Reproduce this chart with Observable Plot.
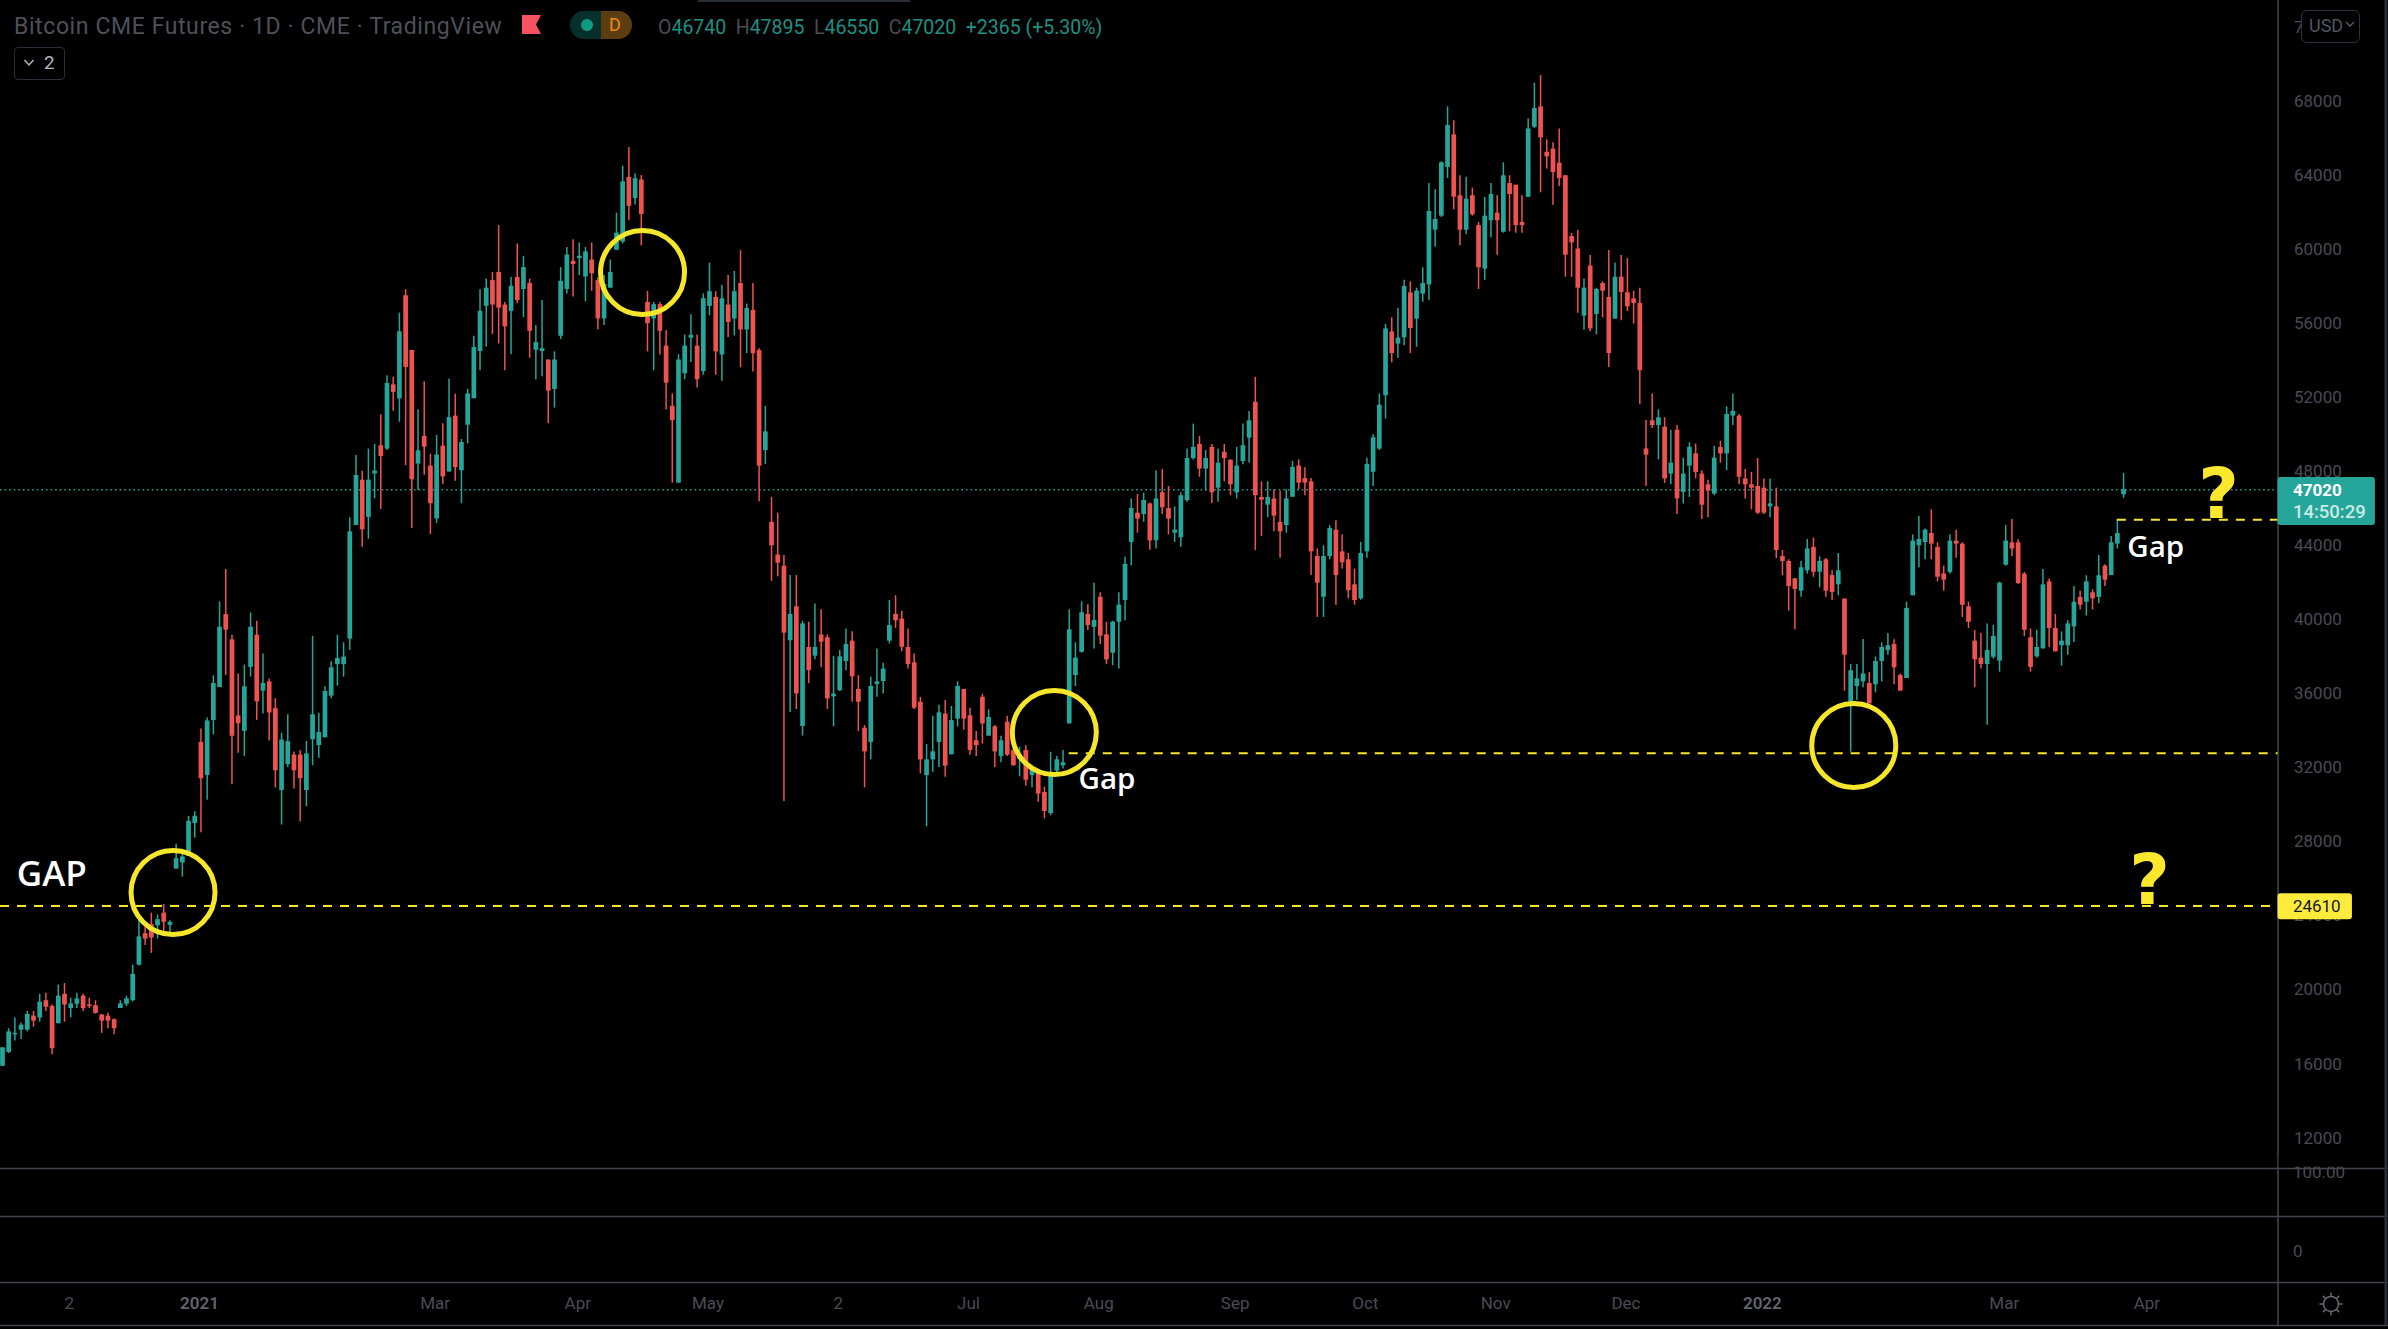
<!DOCTYPE html>
<html><head><meta charset="utf-8">
<script src="https://cdn.jsdelivr.net/npm/d3@7"></script>
<script src="https://cdn.jsdelivr.net/npm/@observablehq/plot@0.6"></script>
<style>
html,body{margin:0;padding:0;background:#000;width:2388px;height:1329px;overflow:hidden}
#wrap{position:relative;width:2388px;height:1329px}
#wrap svg.main{position:absolute;left:0;top:0}
.ov{position:absolute;font-family:Roboto,sans-serif;white-space:nowrap}
</style></head><body>
<div id="wrap"></div>
<script>
// Daily candles, rows are [open, high, low, close] in USD
const dec2020 = [[15880,16880,15880,16880],[16630,17910,16570,17740],[17580,18490,17250,17660],[17830,18220,17330,18100],[17830,18840,17740,18680],[18590,18840,17990,18320],[18490,19770,18260,19340],[19420,19830,18840,19070],[19110,19190,16500,16830],[18180,20270,18180,19670],[19770,20350,18260,19190],[19000,19560,18490,19250],[19230,19830,19000,19520],[19670,19770,18840,19000],[19190,19560,19000,19110],[19150,19420,18700,18740],[18650,18680,17660,18320],[18590,18740,17910,18320],[18400,18430,17580,17910],[19000,19420,19000,19250],[19230,19670,19110,19520],[19420,21340,19360,20850],[21340,23900,21300,22870],[23040,23390,22400,22750],[23530,24150,21980,22810],[23470,24050,22750,23800],[24150,24610,23120,23660],[23490,23740,22970,23660]];
const jan2021 = [[26530,27870,26530,27090],[26860,27420,26100,27190],[27210,29380,27210,29110],[28990,29630,28200,29380],[33370,34090,28490,31410],[31590,34690,30250,34530],[34550,36970,33780,36550],[36330,40960,36330,39590],[40270,42710,36990,39430],[38910,39160,31080,33700],[34800,37070,32790,34380],[33970,37550,32610,36370],[37420,40360,36900,39590],[39160,39920,34550,35560],[36140,38150,34900,36550],[36640,36800,33450,34960],[35190,35730,30910,31840],[30770,33870,28910,33500],[32170,34860,32010,33410],[32690,32850,30850,31840],[32690,32920,29070,31410],[30770,33430,29900,32750],[33510,39100,32110,34860],[33200,34940,32520,33910],[33620,36370,33620,36120],[35870,37730,35730,37400],[37570,39160,36410,37900],[37570,38750,36900,37980]];
const feb2021 = [[38950,45500,38330,44740],[45080,48860,45080,47780],[47530,48020,43910,44850],[45520,49210,44350,47530],[47870,49460,46520,48020],[49390,51060,45950,48810],[49210,53170,49130,52750],[52680,53090,51260,52270],[51920,56550,50660,55540],[57490,57810,48310,53620],[54530,54530,44920,47550],[48400,51330,46970,49120],[49900,52840,47800,49320],[48290,48940,44600,46260],[45440,49950,45200,48890],[49370,50580,47300,47710],[47970,52990,47970,50910],[50990,52170,47470,48210],[48040,49730,46260,49560],[50500,52430,49490,52190],[51930,55300,51930,54700],[54480,57810,53440,56650],[56920,58390,54720,57900],[58310,58750,55400,56990],[58750,61280,54890,56820],[56990,57130,53440,55810],[56650,58480,54310,58000],[58480,60290,57060,57230],[57830,59620,56310,59010],[58150,58390,54120,55570],[54550,55880,52960,54960],[54480,57230,53110,54630],[54020,54020,50580,52340],[52430,54460,51420,54020]];
const apr2021 = [[55300,59010,55130,58270],[57830,60100,57590,59690],[59350,60510,57420,59180],[59500,60340,58580,59620],[58510,60100,57160,59860],[59420,60340,57730,58680],[58310,58460,55640,56240],[56240,58580,55880,58100],[57900,59420,57900,58750],[59950,61950,59950,60870],[60390,64490,60290,63640],[63880,65500,61540,62320],[62730,64080,62390,63810],[63740,63980,60190,61880],[57130,57730,54460,55980],[56240,57130,53440,57010],[57010,57130,54290,55570],[54770,55610,51320,52770],[51520,52190,47370,50740],[47370,54310,47370,54020]];
const may2021 = [[53280,55370,52960,54770],[55200,56460,53880,55350],[54770,55370,52510,52960],[53400,57590,53200,57330],[56920,59250,56410,57710],[57400,57710,53200,54460],[54290,58050,52870,57330],[56990,58580,55230,56050],[56240,58800,55320,57710],[58150,59930,53610,55640],[55640,57040,54360,56800],[56700,58150,53370,54360],[54530,54630,46360,48290],[49130,51520,48380,50140],[45250,46600,42070,43990],[43490,45750,42310,43050],[42890,43460,30180,39270],[38860,42380,34980,40280],[40690,42380,35150,35990]];
const jun2021 = [[34230,39920,33710,39770],[38500,39860,36550,37250],[38030,40850,37830,38500],[39180,40530,37420,38780],[39020,39180,35150,35720],[35830,38010,34210,35980],[36160,38330,36120,37990],[37740,39500,37240,38660],[38840,39340,35540,36910],[36230,36980,33960,35540],[34140,34280,30920,32860],[33370,36890,32430,36390],[36500,38420,35810,36640],[36660,37650,35990,37330],[38840,41030,38690,39680],[40280,41290,39520,39940],[40030,40460,38260,38510],[38500,39500,37340,37580],[37670,38150,35150,35220],[35540,35800,31670,32430],[31580,33260,28810,32430]];
const jul2021 = [[32430,34790,31760,32860],[33370,35380,32020,34970],[34900,35630,31490,32090],[32700,35310,32700,34550],[34630,36640,34210,36390],[36230,36230,34030,34630],[34810,35220,32680,32930],[33460,33960,32610,33200],[35810,35980,33280,34370],[33710,35130,33710,34720],[34210,34280,32020,32860],[32610,33710,32270,33460],[34460,34790,32610,32680],[32930,33330,32090,32110],[32430,33110,31510,32700],[32930,33190,31010,31330],[31580,32140,30920,31930],[31780,31850,30140,30580],[30670,30950,29240,29640],[29530,32840,29410,31670],[31820,32610,31710,32430],[32110,32930,31940,32270],[34370,40530,34370,39450],[36980,38750,36390,37920],[38240,40960,38190,40370],[40280,40800,39410,39680]];
const aug2021 = [[39590,41970,38420,39950],[41210,41450,38660,39110],[39180,39860,37580,37830],[38190,39920,37510,39860],[39860,41450,37330,40780],[41030,43370,39940,42980],[44170,46510,42910,46000],[45750,46760,44670,45430],[45680,46830,45260,46430],[46250,46300,43750,44250],[44260,48040,43820,46520],[46850,48110,45680,46040],[46000,47190,44580,45430],[44670,46090,44170,44830],[44420,46850,43910,46690],[46430,49210,46340,48700],[48700,50560,48610,49300],[49460,49890,47690,48130],[48130,49130,46940,48700],[49300,49460,46270,46850],[47100,49220,46340,48450],[49040,49460,47440,48700],[48610,48630,46690,47280]];
const sep2021 = [[46850,49300,46520,48290],[48540,50560,48360,49390],[49800,51240,48450,50740],[51740,53090,43730,46690],[46600,47440,44490,46450],[46180,47440,45520,46600],[46520,47010,44740,45590],[45250,46940,43320,44740],[45080,47010,44670,46520],[46610,48540,46610,48220],[48290,48630,47030,47370],[47620,48200,46690,47370],[47440,47620,42380,43660],[43410,43820,40120,41970],[41210,43990,40120,43410],[43410,45080,43230,44920],[44830,45340,40780,42380],[43660,44580,42730,43070],[43230,43570,41120,41560],[41880,42730,40780,41030],[41120,44170,41050,43570]];
const oct2021 = [[43660,48720,43320,48380],[47960,49980,47190,49820],[49210,52180,49130,51580],[52090,55940,50830,55700],[55540,56300,53870,54370],[54880,56820,54120,55200],[55220,58330,54790,57990],[57650,58240,54370,55720],[56230,57900,54710,57740],[57580,59000,57140,58150],[58080,63550,57230,62040],[61030,63210,60110,61610],[61790,64720,61720,64670],[64420,67690,63820,66680],[66180,66940,62130,62810],[62890,63970,60190,61030],[61030,63890,60780,62710],[62890,63300,61790,61860],[61280,61450,57830,59000],[58930,62800,58330,61790],[61540,63550,60620,62960]];
const nov2021 = [[61950,62890,59680,61540],[60920,64670,60870,63970],[63550,63970,60940,62960],[63460,63460,60870,61280],[61450,62890,60870,61280],[62810,67030,62810,66500],[66590,68970,66520,67600],[67690,69380,63050,66020],[65240,65910,64330,64990],[65410,65750,62380,64150],[64650,66500,63390,63820],[63970,63980,58490,59680],[60690,60850,58490,60350],[60010,61030,56550,57900],[56390,58400,55630,57900],[59090,59660,55540,55700],[56480,57900,55380,57830],[58150,58240,56300,57740],[57400,59930,53620,54370],[56230,59250,56230,58490]];
const dec2021 = [[58490,59660,56140,57670],[57650,59500,56640,56890],[57320,57740,55960,57070],[57070,57900,51600,53440],[49220,50750,47190,48880],[50740,52180,50320,50480],[50480,51330,48630,50900],[50390,50900,47350,47600],[47860,50230,47280,48450],[50230,50480,45680,46520],[46870,48720,46250,47860],[48290,49550,46600,49310],[48950,49480,47600,47950],[47860,48040,45410,46180],[47280,47530,45500,46940],[46780,49370,46690,48720],[49300,49640,48450,48950],[48950,51490,48040,51080],[50990,52180,50480,51240],[50990,51080,47280,47690],[47600,48110,46510,47280],[47280,47950,45930,47100]];
const jan2022 = [[47190,48700,45680,45750],[47100,47600,45680,45750],[46090,47600,45500,46250],[46090,47100,43300,43730],[43410,43730,42380,43140],[43140,43230,40460,41790],[42200,42220,39450,41630],[41540,43140,41210,42800],[42640,44330,42460,43820],[43900,44400,42290,42560],[42560,43390,41720,43140],[43230,43300,41210,41540],[42380,42640,41030,41470],[41880,43570,41290,42640],[41110,41120,36140,38080],[35450,37580,32840,37240],[36390,37580,35630,36800],[36640,38930,36320,37070],[36550,37150,35450,35450],[36480,37990,36050,37740]];
const feb2022 = [[37740,38750,36640,38500],[38330,39250,38080,38590],[38660,38910,36480,37400],[36980,37060,36140,36140],[36820,40940,36820,40600],[41290,44580,41290,44240],[43990,45590,42800,44330],[44170,44900,43230,44830],[44650,45930,43230,44080],[43900,44150,42040,42290],[42470,42890,41540,42130],[42550,44580,42470,44240],[44240,44830,43320,44080],[44080,44150,40120,40780],[40690,40940,39520,39860],[38840,39410,36320,37830],[37920,39250,37330,37580],[37580,39770,34300,38330],[37970,39680,37870,39090],[37760,42020,37160,41970]];
const mar2022 = [[42940,45080,42890,44240],[44150,45410,43410,43810],[44150,44310,41900,41950],[42460,42550,39090,39430],[39020,39500,37160,37420],[37990,39430,37920,38500],[38420,42710,38420,41880],[42040,42200,38500,39520],[39520,40280,38260,38260],[38590,39340,37490,38840],[38590,39940,38080,39770],[39610,41790,38770,40940],[41200,41540,40530,40780],[40940,42370,40190,42040],[41450,41610,40530,41120],[41200,43460,40870,42370],[42890,42960,41790,42130],[42380,44490,42380,44150],[44080,45410,43820,44650],[46740,47895,46550,47020]];

const priceTicks = [72000,68000,64000,60000,56000,52000,48000,44000,40000,36000,32000,28000,24000,20000,16000,12000];
const monthTickAt = [11,70,93,114,135,156,177,199,220,241,262,323,346];
const monthTickText = ["2","Mar","Apr","May","2","Jul","Aug","Sep","Oct","Nov","Dec","Mar","Apr"];
const yearTickAt = [32,284];
const yearTickText = ["2021","2022"];

const lastPrice = 47020, gapLabel = "24610";
const gapLines = [{price:24540,from:-0.32},{price:32790,from:172},{price:45390,from:341}];
const rings = [{i:27.5,price:25266},{i:103.2,price:58746},{i:169.6,price:33906},{i:298.5,price:33204}];
const bigNote = [{i:2.3,price:26200,text:"GAP"}];
const smallNotes = [{i:173.5,price:31340,text:"Gap"},{i:342.6,price:43920,text:"Gap"}];
const questions = [{i:357.3,price:46680},{i:346.2,price:25830}];

const teal = "#26a69a", red = "#ef5350", yellow = "#f5e62a", dim = "#4a4b55", rule = "#43454f";
const rows = [dec2020,jan2021,feb2021,apr2021,may2021,jun2021,jul2021,aug2021,sep2021,oct2021,nov2021,dec2021,jan2022,feb2022,mar2022].flat();
const candles = rows.map(([open,high,low,close],i)=>({i,open,high,low,close,color:close>=open?teal:red}));

const xEnd = 366.9, xFull = 384.7;
const font = "Roboto, sans-serif";
const chart = Plot.plot({
  width:2388, height:1329, marginLeft:0, marginRight:110.5, marginTop:0, marginBottom:47,
  x:{domain:[-0.32,xEnd], axis:null}, y:{domain:[4206,73434], axis:null},
  style:{background:"#000", fontFamily:font},
  marks:[
    Plot.ruleY([10362,7770,4206,1884],{x1:-0.32,x2:xFull,stroke:rule,strokeWidth:1.5}),
    Plot.ruleX([xEnd],{y1:73434,y2:1884,stroke:rule,strokeWidth:1.5}),
    Plot.ruleX([384.3],{y1:73434,y2:1884,stroke:"#2a2c36",strokeWidth:3}),
    Plot.axisY(priceTicks,{anchor:"right",tickSize:0,tickPadding:16,textAnchor:"start",label:null,fontSize:17,fill:dim,tickFormat:d=>String(d)}),
    Plot.axisX(monthTickAt,{anchor:"bottom",tickSize:0,tickPadding:14.5,dx:-1.5,label:null,fontSize:17,fill:dim,tickFormat:d=>monthTickText[monthTickAt.indexOf(d)]}),
    Plot.axisX(yearTickAt,{anchor:"bottom",tickSize:0,tickPadding:14.5,dx:-1.5,label:null,fontSize:17,fontWeight:600,fill:"#62646e",tickFormat:d=>yearTickText[yearTickAt.indexOf(d)]}),
    // value text clipped by the pane line above it
    Plot.text(["100.00"],{x:[369.3],y:[10146],text:d=>d,textAnchor:"start",fontSize:17,fill:dim}),
    Plot.rect([0],{x1:xEnd+0.2,x2:384,y1:11000,y2:10440,fill:"#000"}),
    Plot.text(["0"],{x:[369.3],y:[5860],text:d=>d,textAnchor:"start",fontSize:17,fill:dim}),
    Plot.ruleY([lastPrice],{x1:-0.32,x2:xEnd,stroke:teal,strokeWidth:1.5,strokeDasharray:"1.5 3.1"}),
    Plot.ruleX(candles,{x:"i",y1:"low",y2:"high",stroke:"color",strokeWidth:1.5}),
    Plot.ruleX(candles,{x:"i",y1:"open",y2:"close",stroke:"color",strokeWidth:4.7}),
    Plot.ruleY(gapLines,{y:"price",x1:"from",x2:xEnd,stroke:yellow,strokeWidth:2,strokeDasharray:"9 8"}),
    Plot.dot(rings,{x:"i",y:"price",r:42,stroke:yellow,strokeWidth:5,fill:"none"}),
    Plot.text(bigNote,{x:"i",y:"price",text:"text",textAnchor:"start",fontSize:35,fontWeight:600,fill:"#fff",fontFamily:"Open Sans"}),
    Plot.text(smallNotes,{x:"i",y:"price",text:"text",textAnchor:"start",fontSize:29.5,fontWeight:600,fill:"#fff",fontFamily:"Open Sans"}),
    Plot.text(questions,{x:"i",y:"price",text:()=>"?",fontSize:70,fontWeight:700,fill:"#fbe82d",fontFamily:"DejaVu Sans"}),
    Plot.rect([0],{x1:xEnd,x2:382.6,y1:45084,y2:47676,fill:teal,rx:3}),
    Plot.text([String(lastPrice)],{x:[369.3],y:[46974],text:d=>d,textAnchor:"start",fontSize:17,fontWeight:700,fill:"#fff"}),
    Plot.text(["14:50:29"],{x:[369.3],y:[45786],text:d=>d,textAnchor:"start",fontSize:18.5,fontWeight:500,fill:"#c8ebe6"}),
    Plot.rect([0],{x1:xEnd,x2:378.9,y1:23800,y2:25200,fill:"#ffeb3b",rx:3}),
    Plot.text([gapLabel],{x:[369.3],y:[24530],text:d=>d,textAnchor:"start",fontSize:17,fill:"#131722"})
  ]
});
chart.classList.add("main");
const wrap = document.getElementById("wrap");
wrap.appendChild(chart);

const headerTitle = "Bitcoin CME Futures · 1D · CME · TradingView";
const ohlc = [["O","46740"],["H","47895"],["L","46550"],["C","47020"]];
const changeText = "+2365 (+5.30%)";
const ohlcGap = '<span style="display:inline-block;width:9.5px"></span>';
const ohlcHtml = ohlc.map(([k,v])=>`<span style="color:#4a4b55">${k}</span><span style="color:#1f8f84">${v}</span>`).join(ohlcGap);
wrap.insertAdjacentHTML("beforeend",`
<div class="ov" style="left:698px;top:0;width:212px;height:2px;background:#2a2e39"></div>
<div class="ov" style="left:14px;top:14px;font-size:23px;letter-spacing:0.6px;line-height:25px;color:#4e505a">${headerTitle}</div>
<svg class="ov" style="left:522px;top:15px" width="20" height="19"><path d="M0 0H19L14 9.5L19 19H0Z" fill="#f7525f"/></svg>
<div class="ov" style="left:570px;top:11px;width:31px;height:28px;background:#06302c;border-radius:14px 0 0 14px"></div>
<div class="ov" style="left:601px;top:11px;width:31px;height:28px;background:#5c3d12;border-radius:0 14px 14px 0;color:#ef8a10;font-size:18px;line-height:28px;text-align:center;text-indent:-3px">D</div>
<svg class="ov" style="left:580px;top:18px" width="14" height="14"><circle cx="7" cy="7" r="6" fill="#0d9c82"/></svg>
<div class="ov" style="left:658px;top:14.5px;font-size:19.5px;line-height:25px">${ohlcHtml}${ohlcGap}<span style="color:#1f8f84">${changeText}</span></div>
<div class="ov" style="left:14px;top:47px;width:49px;height:31px;border:1px solid #2a2e39;border-radius:4px;box-sizing:content-box"></div>
<svg class="ov" style="left:23px;top:58px" width="12" height="10"><path d="M1.5 2L6 7L10.5 2" fill="none" stroke="#b2b5be" stroke-width="1.5"/></svg>
<div class="ov" style="left:44px;top:50px;font-size:19px;line-height:26px;color:#b2b5be">2</div>
<div class="ov" style="left:2301px;top:10px;width:57px;height:31px;background:#000;border:1px solid #2e3140;border-radius:6px"></div>
<div class="ov" style="left:2309px;top:13px;font-size:18px;line-height:25px;color:#4f5563">USD</div>
<svg class="ov" style="left:2345px;top:20px" width="10" height="9"><path d="M1 2L5 6L9 2" fill="none" stroke="#5a5d68" stroke-width="1.4"/></svg>
<svg class="ov" style="left:2318px;top:1291px" width="26" height="26"><g fill="none" stroke="#686a74" stroke-width="1.5"><circle cx="13" cy="13" r="7.5"/><path d="M13 1.5V5.5M13 20.5V24.5M1.5 13H5.5M20.5 13H24.5M4.9 4.9L7.7 7.7M18.3 18.3L21.1 21.1M4.9 21.1L7.7 18.3M18.3 7.7L21.1 4.9"/></g></svg>
`);
</script>
</body></html>
